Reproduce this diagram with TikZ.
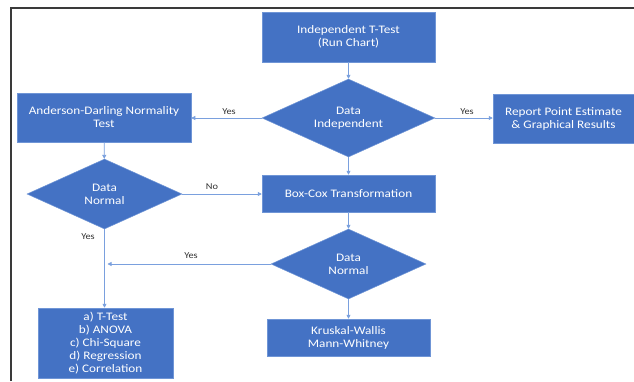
\documentclass[tikz,border=0pt]{standalone}
\usepackage{fontspec}
\setmainfont{Carlito}[FakeStretch=1.15]
\usetikzlibrary{shapes.geometric,arrows.meta}
\definecolor{boxblue}{HTML}{4472C4}
\definecolor{edgeblue}{HTML}{6F95D6}
\definecolor{linkblue}{HTML}{7AA0DE}
\definecolor{framegray}{HTML}{3A3A3A}
\begin{document}
\begin{tikzpicture}[x=1pt,y=-1pt,
  box/.style={rectangle, fill=boxblue, draw=edgeblue, line width=0.5pt, text=white, align=center, font=\fontsize{11.5}{13}\selectfont, inner sep=0pt},
  dec/.style={diamond, aspect=2.2, fill=boxblue, draw=edgeblue, line width=0.5pt, text=white, align=center, font=\fontsize{11.5}{13}\selectfont, inner sep=0pt},
  link/.style={draw=linkblue, line width=0.8pt, -{Triangle[length=4pt,width=4pt]}},
  lbl/.style={font=\fontsize{9}{10}\selectfont, text=black!80, inner sep=0pt}]
\useasboundingbox (0,0) rectangle (634,381);
\fill[white] (0,0) rectangle (634,381);
\draw[framegray, line width=1.3pt] (11,381) -- (11,8) -- (634,8);

\node[box, minimum width=173pt, minimum height=50pt] (t1) at (348.5,37) {Independent T-Test\\(Run Chart)};
\node[dec, minimum width=173pt, minimum height=78pt] (d1) at (348.5,118) {Data\\Independent};
\node[box, minimum width=174pt, minimum height=49pt] (ad) at (104,117.5) {Anderson-Darling Normality\\Test};
\node[box, minimum width=141pt, minimum height=49pt] (rp) at (563.5,118.5) {Report Point Estimate\\\& Graphical Results};
\node[dec, minimum width=155pt, minimum height=70pt] (dn1) at (104.5,194) {Data\\Normal};
\node[box, minimum width=173pt, minimum height=37pt] (bc) at (348.5,193.5) {Box-Cox Transformation};
\node[dec, minimum width=155pt, minimum height=70pt] (dn2) at (348.5,264) {Data\\Normal};
\node[box, minimum width=163pt, minimum height=37pt] (kw) at (348.5,337.5) {Kruskal-Wallis\\Mann-Whitney};
\node[box, minimum width=135pt, minimum height=70pt] (ab) at (105.5,343) {a) T-Test\\b) ANOVA\\c) Chi-Square\\d) Regression\\e) Correlation};

\coordinate (j) at (107.5,264);

\draw[link] (t1) -- (d1);
\draw[link] (d1.west) -- (d1.west -| ad.east);
\draw[link] (d1.east) -- (d1.east -| rp.west);
\draw[link] (d1) -- (bc);
\draw[link] (ad) -- (dn1);
\draw[link] (dn1.east) -- (dn1.east -| bc.west);
\draw[link] (bc) -- (dn2);
\draw[link] (dn2) -- (kw);
\draw[link] (dn1.south) -- (dn1.south |- ab.north);
\draw[link] (dn2.west) -- (j);

\node[lbl] (y1) at (229,112) {Yes};
\node[lbl] (y2) at (467,112) {Yes};
\node[lbl] (n1) at (212,187) {No};
\node[lbl] (y3) at (88,237) {Yes};
\node[lbl] (y4) at (191,256) {Yes};
\end{tikzpicture}
\end{document}
